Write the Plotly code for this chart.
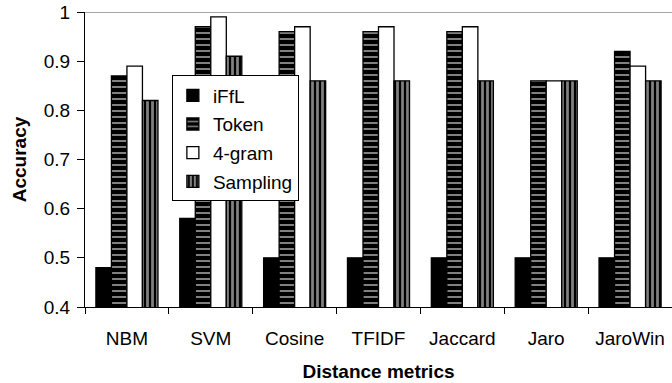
import plotly.graph_objects as go

# Accuracy of each method across distance metrics
metrics = ["NBM", "SVM", "Cosine", "TFIDF", "Jaccard", "Jaro", "JaroWin"]
iffl = [0.48, 0.58, 0.50, 0.50, 0.50, 0.50, 0.50]
token = [0.87, 0.97, 0.96, 0.96, 0.96, 0.86, 0.92]
four_gram = [0.89, 0.99, 0.97, 0.97, 0.97, 0.86, 0.89]
sampling = [0.82, 0.91, 0.86, 0.86, 0.86, 0.86, 0.86]

FONT = "Liberation Sans, Arial, sans-serif"
FS = 19

series = [
    ("iFfL", iffl, dict(color="black")),
    ("Token", token, dict(color="black",
                          pattern=dict(shape="-", fgcolor="white", bgcolor="black",
                                       size=6, solidity=0.33))),
    ("4-gram", four_gram, dict(color="white")),
    ("Sampling", sampling, dict(color="black",
                                pattern=dict(shape="|", fgcolor="white", bgcolor="black",
                                             size=5, solidity=0.55))),
]

fig = go.Figure()
for name, vals, style in series:
    marker = dict(style)
    marker["line"] = dict(color="black", width=1.3)
    fig.add_trace(go.Bar(x=metrics, y=vals, name=name, marker=marker,
                         legendgroup=name))

fig.update_layout(
    width=672, height=383,
    margin=dict(l=85, r=0, t=12, b=76),
    paper_bgcolor="white", plot_bgcolor="white",
    barmode="group", bargap=0.26, bargroupgap=0,
    font=dict(family=FONT, size=FS, color="black"),
    legend=dict(x=0.148, y=0.785, xanchor="left", yanchor="top",
                bgcolor="white", bordercolor="black", borderwidth=1,
                font=dict(size=FS), tracegroupgap=1, itemwidth=30),
    xaxis=dict(
        showline=True, linecolor="black", linewidth=1,
        ticks="outside", tickson="boundaries", ticklen=6, tickcolor="black",
        ticklabelstandoff=14,
        title=dict(text="<b>Distance metrics</b>", font=dict(size=FS), standoff=16),
    ),
    yaxis=dict(
        range=[0.4, 1.0], dtick=0.1, tickformat=".1g",
        showline=True, linecolor="black", linewidth=1,
        ticks="outside", ticklen=7, tickcolor="black",
        ticklabelstandoff=3,
        showgrid=False, zeroline=False,
        title=dict(text="<b>Accuracy</b>", font=dict(size=FS), standoff=12),
    ),
    shapes=[dict(type="line", xref="paper", x0=0, x1=1, yref="y", y0=1.0, y1=1.0,
                 line=dict(color="#888888", width=1.5), layer="below")],
)

fig.write_html("out.html")
